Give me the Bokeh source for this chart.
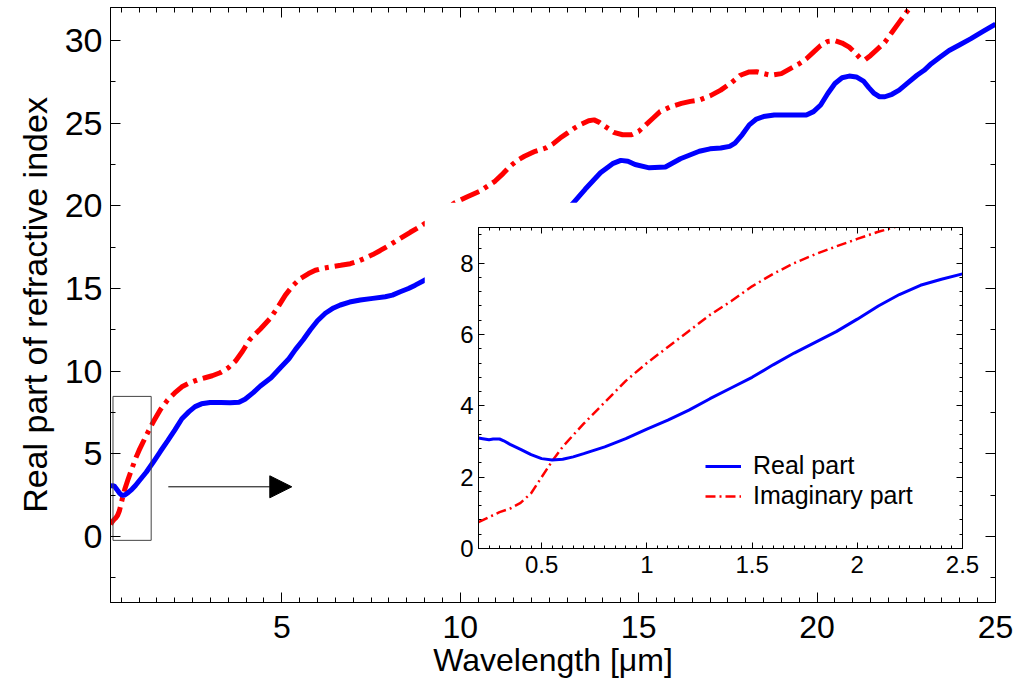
from bokeh.plotting import figure
from bokeh.models import (FixedTicker, LinearAxis, Range1d, Arrow, NormalHead,
                          Legend, LegendItem)
from bokeh.embed import file_html
from bokeh.resources import INLINE

# ---------------- data: main panel ----------------
real_x = [0.2, 0.25, 0.3, 0.35, 0.4, 0.45, 0.5, 0.55, 0.6, 0.7, 0.8, 0.9, 1.0, 1.2, 1.4,
          1.6, 1.8, 2.0, 2.2, 2.4, 2.57, 2.75, 2.99, 3.3, 3.55, 3.8, 3.97, 4.2, 4.4,
          4.7, 4.96, 5.2, 5.38, 5.6, 5.8, 6.0, 6.22, 6.45, 6.64, 6.9, 7.2, 7.55, 7.9,
          8.1, 8.32, 8.55, 8.74, 9.0, 9.5, 10.0, 11.0, 12.0, 12.7, 13.14, 13.5, 13.93,
          14.27, 14.5, 14.7, 14.9, 15.3, 15.75, 16.17, 16.7, 17.0, 17.3, 17.55, 17.7,
          17.9, 18.1, 18.3, 18.5, 18.8, 19.1, 19.4, 19.7, 19.9, 20.1, 20.3, 20.5,
          20.7, 20.9, 21.1, 21.3, 21.45, 21.6, 21.75, 21.9, 22.1, 22.3, 22.55, 22.8,
          23.0, 23.2, 23.45, 23.7, 24.0, 24.3, 24.65, 25.0]
real_n = [3.1, 3.05, 3.07, 2.92, 2.78, 2.63, 2.52, 2.48, 2.5, 2.66, 2.85, 3.08, 3.35, 3.88,
          4.5, 5.15, 5.78, 6.43, 7.12, 7.55, 7.85, 8.02, 8.1, 8.1, 8.08, 8.12, 8.3, 8.7, 9.1,
          9.6, 10.2, 10.75, 11.3, 11.9, 12.5, 13.05, 13.5, 13.82, 14.0, 14.18, 14.3, 14.4,
          14.5, 14.6, 14.8, 15.0, 15.2, 15.5, 15.9, 16.3, 17.2, 18.2, 19.2, 20.1, 21.0,
          22.0, 22.55, 22.75, 22.7, 22.5, 22.3, 22.35, 22.85, 23.3, 23.45, 23.5, 23.6,
          23.8, 24.3, 24.9, 25.25, 25.4, 25.5, 25.5, 25.5, 25.5, 25.7, 26.1, 26.8, 27.4,
          27.75, 27.85, 27.8, 27.55, 27.15, 26.8, 26.6, 26.6, 26.75, 27.0, 27.45, 27.9,
          28.2, 28.6, 29.0, 29.4, 29.75, 30.1, 30.55, 31.0]

imag_x = [0.2, 0.25, 0.3, 0.35, 0.4, 0.45, 0.5, 0.55, 0.6, 0.7, 0.8, 0.9, 1.0, 1.2, 1.4,
          1.6, 1.8, 2.0, 2.2, 2.43, 2.65, 2.85, 3.05, 3.27, 3.5, 3.7, 3.9, 4.1, 4.4, 4.68,
          4.9, 5.1, 5.3, 5.52, 5.75, 5.94, 6.15, 6.36, 6.65, 6.92, 7.1, 7.3, 7.55, 7.76,
          8.0, 8.3, 8.6, 8.88, 9.4, 9.86, 10.2, 10.56, 10.98, 11.2, 11.4, 11.6, 11.8,
          12.1, 12.4, 12.6, 12.8, 13.0, 13.2, 13.4, 13.6, 13.75, 13.9, 14.1, 14.3, 14.55,
          14.8, 15.0, 15.2, 15.4, 15.6, 15.9, 16.2, 16.45, 16.7, 17.0, 17.3, 17.6, 17.85,
          18.1, 18.3, 18.5, 18.7, 19.0, 19.25, 19.5, 19.7, 19.9, 20.1, 20.3, 20.5, 20.7,
          20.9, 21.05, 21.2, 21.35, 21.5, 21.7, 21.9, 22.1, 22.3, 22.5, 22.7, 22.9]
imag_k = [0.74, 0.88, 1.02, 1.12, 1.28, 1.55, 2.0, 2.45, 2.85, 3.5, 4.1, 4.7, 5.2, 6.1,
          6.93, 7.68, 8.25, 8.68, 9.05, 9.3, 9.48, 9.6, 9.72, 9.9, 10.2, 10.6, 11.2, 11.9,
          12.55, 13.2, 13.9, 14.6, 15.15, 15.6, 15.9, 16.1, 16.22, 16.3, 16.4, 16.5, 16.62,
          16.8, 17.05, 17.3, 17.6, 18.0, 18.4, 18.75, 19.5, 20.2, 20.55, 20.9, 21.5, 21.95,
          22.4, 22.75, 23.0, 23.3, 23.5, 23.75, 24.1, 24.4, 24.7, 24.95, 25.15, 25.2, 25.05,
          24.75, 24.45, 24.3, 24.3, 24.5, 24.9, 25.3, 25.7, 26.0, 26.2, 26.32, 26.4, 26.65,
          27.0, 27.45, 27.9, 28.1, 28.12, 28.0, 27.9, 28.0, 28.3, 28.6, 28.9, 29.3, 29.7,
          29.95, 30.0, 29.85, 29.6, 29.3, 28.95, 28.85, 29.1, 29.5, 29.9, 30.5, 31.1, 31.7,
          32.2, 32.8]

main_xticks = [5, 10, 15, 20, 25]
main_yticks = [0, 5, 10, 15, 20, 25, 30]

zoom_box_x = [0.27, 1.34]
zoom_box_y = [-0.24, 8.47]
arrow_x = [1.82, 5.28]
arrow_y = [3.0, 3.0]

# ---------------- data: inset ----------------
in_real_x = [0.2, 0.22, 0.25, 0.27, 0.3, 0.32, 0.35, 0.4, 0.45, 0.5, 0.55, 0.6, 0.65, 0.7,
             0.8, 0.9, 1.0, 1.1, 1.2, 1.3, 1.4, 1.5, 1.6, 1.7, 1.8, 1.9, 2.0, 2.1, 2.2,
             2.3, 2.4, 2.5]
in_real_n = [3.1, 3.08, 3.05, 3.07, 3.07, 3.02, 2.92, 2.78, 2.63, 2.52, 2.48, 2.5, 2.57,
             2.66, 2.85, 3.08, 3.35, 3.6, 3.88, 4.2, 4.5, 4.8, 5.15, 5.48, 5.78, 6.08, 6.43,
             6.8, 7.12, 7.38, 7.55, 7.7]
in_imag_x = [0.2, 0.25, 0.3, 0.35, 0.4, 0.45, 0.5, 0.55, 0.6, 0.65, 0.7, 0.8, 0.9, 1.0,
             1.1, 1.2, 1.3, 1.4, 1.5, 1.6, 1.7, 1.8, 1.9, 2.0, 2.1, 2.2, 2.3]
in_imag_k = [0.74, 0.88, 1.02, 1.12, 1.28, 1.55, 2.0, 2.45, 2.85, 3.18, 3.5, 4.1, 4.7, 5.2,
             5.65, 6.1, 6.55, 6.93, 7.35, 7.7, 8.0, 8.25, 8.47, 8.68, 8.88, 9.05, 9.2]

inset_xticks = [0.5, 1, 1.5, 2, 2.5]
inset_xlabels = {0.5: "0.5", 1: "1", 1.5: "1.5", 2: "2", 2.5: "2.5"}
inset_yticks = [0, 2, 4, 6, 8]

FONT = "Liberation Sans"

# ---------------- main figure ----------------
p = figure(width=1026, height=687, x_range=Range1d(0.2, 25), y_range=Range1d(-4, 32),
           output_backend="svg", toolbar_location=None,
           min_border_left=110, min_border_right=31, min_border_top=7, min_border_bottom=85)
p.grid.visible = False
p.outline_line_color = "black"
p.outline_line_width = 1
p.background_fill_color = "white"
p.border_fill_color = "white"

x_minor = [0.5 * i for i in range(1, 51)]
y_minor = [-2.5 + 2.5 * i for i in range(0, 15)]

def style_axis(ax, ticks, minor, size, show_labels=True):
    ax.ticker = FixedTicker(ticks=ticks, minor_ticks=minor)
    ax.major_tick_in = 10
    ax.major_tick_out = 0
    ax.minor_tick_in = 5
    ax.minor_tick_out = 0
    ax.axis_line_color = "black"
    ax.major_tick_line_color = "black"
    ax.minor_tick_line_color = "black"
    ax.major_label_text_font = FONT
    ax.major_label_text_color = "black"
    if show_labels:
        ax.major_label_text_font_size = size
    else:
        ax.major_label_overrides = {t: "" for t in ticks}
        ax.major_label_standoff = 0

style_axis(p.xaxis[0], main_xticks, x_minor, "32px")
style_axis(p.yaxis[0], main_yticks, y_minor, "34px")
p.xaxis[0].major_label_standoff = 13
p.yaxis[0].major_label_standoff = 8
p.xaxis[0].axis_label = "Wavelength [μm]"
p.xaxis[0].axis_label_text_font = FONT
p.xaxis[0].axis_label_text_font_size = "32px"
p.xaxis[0].axis_label_text_font_style = "normal"
p.xaxis[0].axis_label_text_color = "black"
p.xaxis[0].axis_label_standoff = 1
p.yaxis[0].axis_label = "Real part of refractive index"
p.yaxis[0].axis_label_text_font = FONT
p.yaxis[0].axis_label_text_font_size = "34px"
p.yaxis[0].axis_label_text_font_style = "normal"
p.yaxis[0].axis_label_text_color = "black"
p.yaxis[0].axis_label_standoff = 8

top_ax = LinearAxis()
style_axis(top_ax, main_xticks, x_minor, "0px", show_labels=False)
p.add_layout(top_ax, "above")
right_ax = LinearAxis()
style_axis(right_ax, main_yticks, y_minor, "0px", show_labels=False)
p.add_layout(right_ax, "right")

p.line(imag_x, imag_k, line_color="red", line_width=5, line_dash="20 6 4 6")
p.line(real_x, real_n, line_color="blue", line_width=5)

p.quad(left=[zoom_box_x[0]], right=[zoom_box_x[1]], bottom=[zoom_box_y[0]], top=[zoom_box_y[1]],
       fill_color=None, line_color="#444444", line_width=1)
p.add_layout(Arrow(end=NormalHead(size=22, fill_color="black", line_color="black"),
                   x_start=arrow_x[0], y_start=arrow_y[0], x_end=arrow_x[1], y_end=arrow_y[1],
                   line_color="black", line_width=1))

# ---------------- inset figure ----------------
q = figure(width=561, height=388, x_range=Range1d(0.2, 2.5), y_range=Range1d(0, 9),
           output_backend="svg", toolbar_location=None,
           min_border_left=54, min_border_right=23, min_border_top=25, min_border_bottom=42)
q.styles = {"position": "absolute", "left": "424px", "top": "202px"}
q.grid.visible = False
q.outline_line_color = "black"
q.outline_line_width = 1
q.background_fill_color = "white"
q.border_fill_color = "white"

ix_minor = [0.2 + 0.05 * i for i in range(0, 47)]
iy_minor = [0.4 * i for i in range(0, 23)]

def style_inset_axis(ax, ticks, minor, show_labels=True):
    ax.ticker = FixedTicker(ticks=ticks, minor_ticks=minor)
    ax.major_tick_in = 6
    ax.major_tick_out = 0
    ax.minor_tick_in = 3
    ax.minor_tick_out = 0
    ax.axis_line_color = "black"
    ax.major_tick_line_color = "black"
    ax.minor_tick_line_color = "black"
    ax.major_label_text_font = FONT
    ax.major_label_text_color = "black"
    if show_labels:
        ax.major_label_text_font_size = "24px"
        ax.major_label_standoff = 7
    else:
        ax.major_label_overrides = {t: "" for t in ticks}
        ax.major_label_standoff = 0

style_inset_axis(q.xaxis[0], inset_xticks, ix_minor)
q.xaxis[0].major_label_overrides = inset_xlabels
style_inset_axis(q.yaxis[0], inset_yticks, iy_minor)
q.yaxis[0].major_label_standoff = 5
qt = LinearAxis()
style_inset_axis(qt, inset_xticks, ix_minor, show_labels=False)
q.add_layout(qt, "above")
qr = LinearAxis()
style_inset_axis(qr, inset_yticks, iy_minor, show_labels=False)
q.add_layout(qr, "right")

r_imag = q.line(in_imag_x, in_imag_k, line_color="red", line_width=2.5, line_dash="10 4 2 4")
r_real = q.line(in_real_x, in_real_n, line_color="blue", line_width=3)

legend = Legend(items=[LegendItem(label="Real part", renderers=[r_real]),
                       LegendItem(label="Imaginary part", renderers=[r_imag])],
                location=(227, 38), border_line_color=None, background_fill_alpha=0,
                padding=0, margin=0, spacing=1, glyph_width=36, glyph_height=20,
                label_standoff=12, label_text_font=FONT, label_text_font_size="25px",
                label_text_color="black")
q.add_layout(legend, "center")

open("out.html", "w").write(file_html([p, q], INLINE))
